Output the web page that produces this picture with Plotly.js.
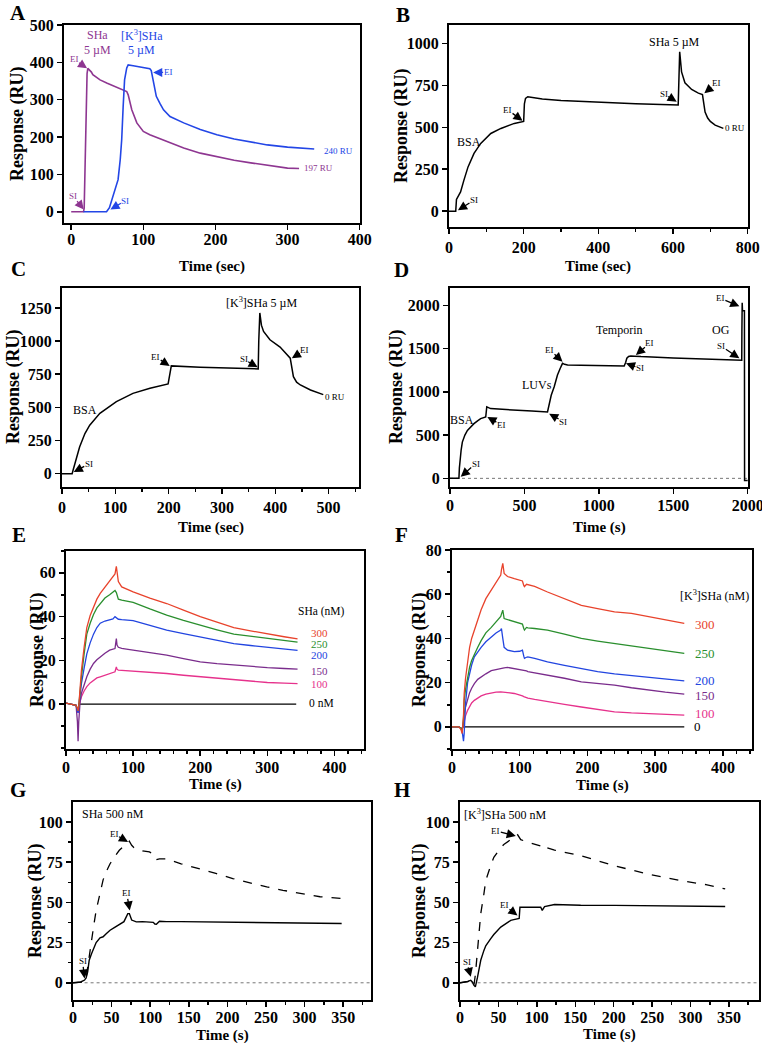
<!DOCTYPE html>
<html><head><meta charset="utf-8">
<script src="https://cdn.plot.ly/plotly-3.0.1.min.js"></script>
<style>html,body{margin:0;padding:0;background:#fff}#chart{width:762px;height:1043px}</style>
</head><body><div id="chart"></div>
<script>
// ---------------- DATA ----------------
// Panel A
const aSHaT = [0, 17, 18, 20, 22, 23, 25, 28, 30, 40, 50, 63, 70, 77, 79, 84, 91, 100, 109, 120, 133, 156, 179, 202, 226, 249, 272, 300, 316];
const aSHaR = [0, 0, 10, 200, 370, 384, 381, 374, 367, 353, 344, 334, 328, 322, 313, 273, 238, 215, 206, 198, 189, 171, 157, 147, 138, 131, 124, 117, 116];
const aK3T = [17, 49, 53, 57, 60, 63, 65, 68, 70, 72, 74, 77, 79, 86, 100, 109, 111, 114, 118, 123, 128, 137, 156, 179, 202, 226, 249, 272, 300, 337];
const aK3R = [0, 0, 11, 35, 55, 70, 86, 140, 193, 280, 353, 385, 393, 391, 386, 383, 378, 344, 309, 290, 273, 255, 238, 220, 206, 195, 186, 179, 173, 168];
// Panel B
const bT = [0, 18, 20, 22, 31, 40, 51, 67, 85, 112, 139, 175, 200, 202, 205, 211, 250, 300, 400, 500, 614, 616, 618, 623, 632, 650, 668, 679, 682, 686, 693, 700, 713, 735];
const bR = [0, 0, 70, 80, 115, 185, 264, 344, 404, 463, 493, 523, 535, 640, 672, 682, 668, 660, 648, 640, 632, 800, 950, 830, 765, 725, 703, 695, 660, 590, 555, 535, 513, 493];
// Panel C
const cT = [0, 19, 21, 24, 27, 33, 43, 52, 71, 102, 133, 165, 199, 201, 203, 205, 259, 321, 368, 369, 371, 374, 378, 390, 409, 428, 431, 434, 440, 447, 466, 484, 490];
const cR = [0, 0, 30, 70, 114, 202, 303, 366, 455, 543, 606, 644, 677, 730, 790, 813, 803, 795, 790, 1000, 1212, 1120, 1073, 1010, 955, 871, 808, 732, 690, 669, 631, 606, 596];
// Panel D
const dT = [0, 60, 63, 67, 75, 83, 100, 117, 140, 161, 185, 206, 240, 243, 247, 273, 350, 430, 550, 655, 666, 680, 700, 722, 740, 756, 770, 790, 879, 1000, 1170, 1180, 1188, 1200, 1215, 1240, 1283, 1500, 1700, 1960, 1961, 1963, 1965, 1978, 1979, 2000];
const dR = [0, 0, 120, 205, 330, 419, 500, 554, 600, 632, 665, 690, 709, 820, 826, 806, 796, 787, 778, 767, 864, 960, 1058, 1194, 1270, 1329, 1318, 1310, 1306, 1303, 1298, 1340, 1388, 1408, 1415, 1412, 1407, 1392, 1380, 1365, 1700, 2030, 1940, 1938, -25, -25];
const dZeroT = [0, 2000];
const dZeroR = [0, 0];
// Panel E (SHa, nM)
const eT = [0, 10, 15, 17, 18, 19, 21, 23, 27, 31, 36, 41, 46, 51, 58, 65, 70, 73, 75, 76, 78, 83, 90, 100, 125, 150, 175, 200, 225, 250, 275, 300, 325, 345];
const e300 = [0.5, 0, -0.5, -2, -3, -1, 8, 15.5, 26, 35, 40.5, 44.5, 48, 50.6, 53.5, 56, 58, 59.5, 63, 60, 56, 53.6, 52.5, 51.3, 48.5, 46, 43, 40, 37.5, 35, 33.5, 32, 30.8, 29.8];
const e250 = [0.5, 0, -0.5, -2, -3, -1, 6, 12.5, 23, 32, 37, 41, 44, 46, 48.5, 50, 51.5, 52, 51, 50, 48, 47.5, 47, 46.5, 43.5, 40.7, 38.3, 36, 34, 32, 31, 30, 29, 28.3];
const e200 = [0.5, 0, -0.5, -3, -4, -1, 4, 9.4, 16.5, 23, 28, 32, 35, 37, 38, 38.4, 39, 40, 39.5, 39, 38.8, 38.6, 38.5, 38.2, 36, 33.8, 32.2, 30.8, 29.2, 27.7, 26.8, 26, 25.2, 24.6];
const e150 = [0.5, 0, -0.5, -8, -17, -8, 1, 5, 9, 12.5, 16, 18.6, 20.3, 21.6, 23.3, 24.7, 25.2, 25.4, 30, 27, 26, 25.5, 25.2, 24.7, 23.5, 22.4, 20.8, 19.3, 18.5, 17.8, 17.2, 16.7, 16.3, 16];
const e100 = [0.5, 0, -0.5, -3, -4, -1, 1, 3.4, 6, 8, 9.7, 11, 12, 12.5, 13.2, 13.7, 14.3, 14.8, 17, 16, 15.5, 15.4, 15.3, 15.2, 14.6, 14, 13.2, 12.5, 11.9, 11.3, 10.6, 9.9, 9.6, 9.4];
const eZeroT = [18, 343];
const eZeroR = [0, 0];
// Panel F ([K3]SHa, nM)
const fT = [0, 10, 13, 15, 17, 18, 20, 23, 26, 29, 33, 38, 43, 50, 58, 65, 72, 73, 75, 77, 82, 92, 100, 104, 106, 107, 110, 112, 122, 141, 166, 191, 215, 240, 265, 289, 315, 343];
const f300 = [0, 0, -1, -3, 5, 15, 22, 30, 36, 40, 44, 49, 53, 58, 62, 65.5, 68.7, 71, 74, 69.4, 68, 67, 66.5, 66, 64, 63.4, 64.5, 64.3, 63.5, 61, 58, 55, 53.5, 52, 51.3, 50, 48.5, 46.8];
const f250 = [0, 0, -0.5, -2, 4, 12, 17, 22.6, 27, 30, 33, 36, 39, 42.5, 45, 47.5, 50, 51, 52.8, 49, 48.5, 47.5, 47, 46.5, 44.5, 43.8, 45, 44.8, 44.5, 43.8, 42, 40, 38.8, 37.7, 36.5, 35.5, 34.3, 33.2];
const f200 = [0, 0, -0.5, -2, -6.5, -3, 10.6, 20, 24, 28, 31.7, 34, 36, 38.5, 40.8, 42.5, 43.8, 44.5, 40, 36, 34.7, 34, 34.2, 34.7, 32, 31, 31.5, 31.7, 31, 29.4, 27.8, 26.4, 25, 24, 23.2, 22.6, 21.7, 20.8];
const f150 = [0, 0, -0.5, -1, 2, 6, 9, 13, 15.5, 17.5, 19.6, 21.5, 22.6, 24, 25.4, 26, 26.4, 26.5, 26.6, 26.7, 26.9, 26.4, 26.1, 25.9, 25.7, 25.7, 25.3, 25, 24.5, 23.4, 22, 20.4, 19.6, 18.9, 17.7, 16.6, 15.7, 14.8];
const f100 = [0, 0, -0.5, -1, 1, 3, 5, 7.5, 9.5, 10.8, 12, 13.2, 14, 14.8, 15.4, 15.7, 15.8, 15.8, 15.8, 15.7, 15.5, 15.1, 14.5, 14, 13.7, 13.6, 13.3, 13, 12.4, 11.3, 10.2, 9, 8, 6.8, 6.3, 6, 5.5, 5.3];
const fZeroT = [15, 343];
const fZeroR = [0, 0];
// Panel G (SHa 500 nM)
const gT = [0, 10, 15, 17, 19, 21, 24, 27, 30, 35, 39, 43, 48, 54, 60, 66, 71, 73, 76, 79, 82, 90, 99, 104, 106, 108, 112, 121, 140, 164, 185, 207, 230, 251, 272, 294, 320, 348];
const gDash = [0, 0.3, 0.6, 3, 10, 18, 26.5, 36, 45, 56, 64, 69, 74, 78.5, 82.4, 85, 86.5, 88, 85.5, 84, 83.4, 82, 81.4, 80, 78, 76.5, 77, 77, 74, 71, 68, 64.8, 62, 59.6, 57.5, 55.5, 53.5, 52.4];
const gSolid = [0, 0.5, 1.7, 3, 6.8, 14, 18, 22, 25, 28, 28.6, 30.5, 32.7, 34.5, 36, 38, 43, 43, 39, 38.3, 37.9, 38, 38, 37.6, 36.5, 36.4, 38.3, 38, 38, 37.9, 37.8, 37.6, 37.5, 37.3, 37.1, 37, 36.9, 36.9];
const gZeroT = [15, 386];
const gZeroR = [0, 0];
// Panel H ([K3]SHa 500 nM)
const hT = [0, 10, 14, 16, 18, 20, 22.6, 25, 27, 31, 33.5, 40, 44, 53, 57, 66, 70, 75, 77, 78, 79, 88, 92, 100, 105, 107, 110, 123, 157, 201, 244, 288, 320, 345];
const hDash = [0, 0.5, 1, 0, -2, 5, 18, 32, 43, 55, 63.5, 73, 78, 84, 86, 89, 90, 92, 90, 89.5, 89, 87.5, 87, 86, 85, 83.5, 84.5, 82.5, 79, 72.8, 67.6, 63.5, 61, 58.4];
const hSolid = [0, 0.8, 1.6, 0.5, -1.5, -2.5, 3, 10, 14, 20, 23, 27.4, 30, 34.6, 36, 38.8, 39.3, 39.8, 40, 47, 47, 47.4, 47.3, 47.1, 47, 45, 47.4, 48.7, 48.2, 48.1, 48, 47.8, 47.6, 47.4];
const hZeroT = [15, 389];
const hZeroR = [0, 0];

// ---------------- STYLE ----------------
const W = 762, H = 1043;
const FAM = 'Liberation Serif';
const C = {purple:'#8E3691', blue:'#2346E6', red:'#E8432C', green:'#2A8F2E', eblue:'#2245E0', epurple:'#7A2C8C', pink:'#E6328C', black:'#000'};
const TF = {family: FAM, size: 16, color: '#000', weight: 700};
function dx(l, r){ return [l / W, r / W]; }
function dy(t, b){ return [1 - b / H, 1 - t / H]; }
function axis(dom, range, dtick, anchor, minor, standoff){
  const a = {domain: dom, range: range, anchor: anchor, showline: true, mirror: true, linewidth: 2, linecolor: '#000',
    ticks: 'outside', ticklen: 5, tickwidth: 1.5, tickcolor: '#000', tick0: 0, dtick: dtick, tickfont: TF,
    showgrid: false, zeroline: false, fixedrange: true, ticklabeloverflow: 'allow'};
  if (minor) a.minor = {tick0: 0, dtick: minor, ticks: 'outside', ticklen: 3, tickwidth: 1.5, tickcolor: '#000', showgrid: false};
  if (standoff !== undefined) a.ticklabelstandoff = standoff;
  return a;
}
function ln(n, x, y, color, width, dash){
  const s = n > 1 ? String(n) : '';
  return {type: 'scatter', mode: 'lines', x: x, y: y, xaxis: 'x' + s, yaxis: 'y' + s,
    line: {color: color, width: width || 1.5, dash: dash || 'solid'}, showlegend: false, hoverinfo: 'skip'};
}
function ref(n){ const s = n > 1 ? String(n) : ''; return {xref: 'x' + s, yref: 'y' + s}; }
function txt(n, x, y, text, size, color){
  return Object.assign(ref(n), {x: x, y: y, text: text, showarrow: false,
    font: {family: FAM, size: size, color: color || '#000'}});
}
function arr(n, x, y, text, ax, ay, color){
  const c = color || '#000';
  return Object.assign(ref(n), {x: x, y: y, text: text, showarrow: true, ax: ax, ay: ay,
    arrowhead: 2, arrowsize: 1.4, arrowwidth: 1.3, arrowcolor: c, borderpad: 0,
    font: {family: FAM, size: 9, color: c}});
}
function ptxt(px, py, text, size, bold, angle){
  return {xref: 'paper', yref: 'paper', x: px / W, y: 1 - py / H, text: text, showarrow: false,
    xanchor: 'center', yanchor: 'middle', textangle: angle || 0,
    font: {family: FAM, size: size, color: '#000', weight: bold ? 700 : 400}};
}

// ---------------- TRACES ----------------
const traces = [
  ln(1, aSHaT, aSHaR, C.purple, 1.6), ln(1, aK3T, aK3R, C.blue, 1.6),
  ln(2, bT, bR, C.black, 1.5),
  ln(3, cT, cR, C.black, 1.5),
  ln(4, dZeroT, dZeroR, '#777', 1, 'dot'), ln(4, dT, dR, C.black, 1.5),
  ln(5, eZeroT, eZeroR, C.black, 1.2),
  ln(5, eT, e100, C.pink, 1.3), ln(5, eT, e150, C.epurple, 1.3), ln(5, eT, e200, C.eblue, 1.3),
  ln(5, eT, e250, C.green, 1.3), ln(5, eT, e300, C.red, 1.3),
  ln(6, fZeroT, fZeroR, C.black, 1.2),
  ln(6, fT, f100, C.pink, 1.3), ln(6, fT, f150, C.epurple, 1.3), ln(6, fT, f200, C.eblue, 1.3),
  ln(6, fT, f250, C.green, 1.3), ln(6, fT, f300, C.red, 1.3),
  ln(7, gZeroT, gZeroR, '#777', 1, 'dot'), ln(7, gT, gDash, C.black, 1.3, 'dash'), ln(7, gT, gSolid, C.black, 1.4),
  ln(8, hZeroT, hZeroR, '#777', 1, 'dot'), ln(8, hT, hDash, C.black, 1.3, 'dash'), ln(8, hT, hSolid, C.black, 1.4)
];

// ---------------- ANNOTATIONS ----------------
const ann = [
  // panel letters
  ptxt(18, 13, 'A', 21, true), ptxt(403, 15, 'B', 21, true), ptxt(18, 269, 'C', 21, true), ptxt(401, 270, 'D', 21, true),
  ptxt(19, 535, 'E', 21, true), ptxt(401, 535, 'F', 21, true), ptxt(18, 790, 'G', 21, true), ptxt(402, 790, 'H', 21, true),
  // y titles
  ptxt(17, 124, 'Response (RU)', 18, true, -90), ptxt(401, 126, 'Response (RU)', 18, true, -90),
  ptxt(13, 387, 'Response (RU)', 18, true, -90), ptxt(396, 387, 'Response (RU)', 18, true, -90),
  ptxt(37, 650, 'Response (RU)', 18, true, -90), ptxt(419, 650, 'Response (RU)', 18, true, -90),
  ptxt(35, 901, 'Response (RU)', 18, true, -90), ptxt(419, 901, 'Response (RU)', 18, true, -90),
  // x titles
  ptxt(212, 266, 'Time (sec)', 15, true), ptxt(598, 266, 'Time (sec)', 15, true),
  ptxt(211, 527, 'Time (sec)', 15, true), ptxt(599, 527, 'Time (s)', 15, true),
  ptxt(215, 784, 'Time (s)', 15, true), ptxt(602, 785, 'Time (s)', 15, true),
  ptxt(222, 1035, 'Time (s)', 15, true), ptxt(609, 1034, 'Time (s)', 15, true),
  // A
  txt(1, 37, 473, 'SHa', 12, C.purple), txt(1, 37, 433, '5 µM', 12, C.purple),
  txt(1, 97.5, 473, '[K<sup>3</sup>]SHa', 12, C.blue), txt(1, 97.5, 433, '5 µM', 12, C.blue),
  arr(1, 22, 384, 'EI', -13, -9, C.purple), arr(1, 17.4, 6, 'SI', -11, -14, C.purple),
  arr(1, 54.4, 6, 'SI', 15, -9, C.blue), arr(1, 113.6, 373, 'EI', 15, 0, C.blue),
  txt(1, 370, 164, '240 RU', 9, C.blue), txt(1, 343, 117, '197 RU', 9, C.purple),
  // B
  arr(2, 24, 6, 'SI', 16, -10), txt(2, 54, 414, 'BSA', 12), arr(2, 197, 539, 'EI', -15, -11),
  arr(2, 610, 652, 'SI', -13, -8), txt(2, 605, 1010, 'SHa 5 µM', 12), arr(2, 684, 702, 'EI', 12, -10),
  txt(2, 765, 497, '0 RU', 9),
  // C
  arr(3, 22, 13, 'SI', 15, -8), txt(3, 43, 480, 'BSA', 12), arr(3, 202, 813, 'EI', -14, -9),
  arr(3, 367, 803, 'SI', -14, -8), txt(3, 375, 1288, '[K<sup>3</sup>]SHa 5 µM', 12), arr(3, 431, 871, 'EI', 13, -8),
  txt(3, 512, 581, '0 RU', 9),
  // D
  arr(4, 72, 19, 'SI', 15, -13), txt(4, 83, 670, 'BSA', 12), arr(4, 251, 709, 'EI', 14, 8),
  txt(4, 587, 1077, 'LUVs', 12), arr(4, 666, 748, 'SI', 14, 8), arr(4, 756, 1349, 'EI', -13, -12),
  txt(4, 1137, 1709, 'Temporin', 12), arr(4, 1249, 1426, 'EI', 14, -12), arr(4, 1182, 1329, 'SI', 14, 5),
  txt(4, 1821, 1717, 'OG', 12), arr(4, 1944, 1388, 'SI', -18, -12), arr(4, 1944, 1988, 'EI', -19, -8),
  // E legend
  txt(5, 380, 42.2, 'SHa (nM)', 11.5), txt(5, 378, 32.3, '300', 11, C.red), txt(5, 378, 27.4, '250', 11, C.green),
  txt(5, 378, 22.4, '200', 11, C.eblue), txt(5, 378, 15.2, '150', 11, C.epurple), txt(5, 378, 9, '100', 11, C.pink),
  txt(5, 380, 0.3, '0 nM', 11.5),
  // F legend
  txt(6, 388, 59.6, '[K<sup>3</sup>]SHa (nM)', 12), txt(6, 373, 46.5, '300', 13, C.red), txt(6, 373, 33.2, '250', 13, C.green),
  txt(6, 373, 21.1, '200', 13, C.eblue), txt(6, 373, 14.3, '150', 13, C.epurple), txt(6, 373, 6, '100', 13, C.pink),
  txt(6, 363, 0, '0', 13),
  // G
  txt(7, 52, 105, 'SHa 500 nM', 12), arr(7, 71.3, 87.6, 'EI', -14, -8), arr(7, 73.5, 45, 'EI', -3, -17),
  arr(7, 15, 2.7, 'SI', -2, -17),
  // H
  txt(8, 59, 104.7, '[K<sup>3</sup>]SHa 500 nM', 12), arr(8, 72.6, 91.3, 'EI', -20, -5), arr(8, 74.8, 41.9, 'EI', -13, -10),
  arr(8, 14, 3.7, 'SI', -4, -15)
];

// ---------------- LAYOUT ----------------
const layout = {
  width: W, height: H, margin: {l: 0, r: 0, t: 0, b: 0}, paper_bgcolor: '#fff', plot_bgcolor: '#fff',
  showlegend: false, hovermode: false,
  xaxis:  axis(dx(64, 360), [-10, 400.5], 100, 'y', null, -4),
  yaxis:  axis(dy(25, 223), [-30, 500], 100, 'x'),
  xaxis2: axis(dx(449, 748), [0, 801], 200, 'y2', 100, 0),
  yaxis2: axis(dy(25, 227), [-94, 1109], 250, 'x2'),
  xaxis3: axis(dx(62, 359), [0, 557], 100, 'y3', 50, 0),
  yaxis3: axis(dy(288, 487), [-100, 1400], 250, 'x3'),
  xaxis4: axis(dx(450, 748), [0, 2002], 500, 'y4', null, -2),
  yaxis4: axis(dy(288, 487), [-100, 2200], 500, 'x4'),
  xaxis5: axis(dx(66, 364), [0, 444], 100, 'y5', 20, -2),
  yaxis5: axis(dy(551, 749), [-20.5, 70], 20, 'x5', 10),
  xaxis6: axis(dx(452, 752), [0, 443], 100, 'y6', 20, -2),
  yaxis6: axis(dy(550, 749), [-10, 80], 20, 'x6', 10),
  xaxis7: axis(dx(73, 371), [0, 386], 50, 'y7', 25, -3),
  yaxis7: axis(dy(802, 1000), [-10.7, 112.4], 25, 'x7', 12.5),
  xaxis8: axis(dx(460, 759), [0, 389], 50, 'y8', 25, -3),
  yaxis8: axis(dy(802, 1000), [-10.7, 112.4], 25, 'x8', 12.5),
  annotations: ann
};
layout.yaxis5.tickmode = 'array'; layout.yaxis5.tickvals = [0, 20, 40, 60];

Plotly.newPlot('chart', traces, layout, {staticPlot: true, displayModeBar: false});
</script></body></html>
